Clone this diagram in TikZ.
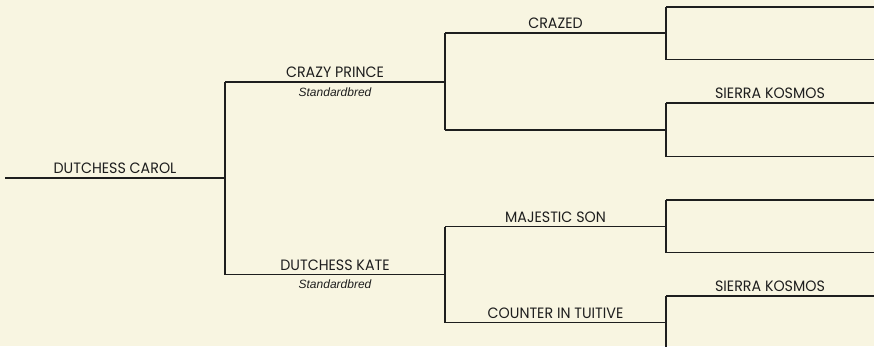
\documentclass[tikz,border=0pt]{standalone}
\usepackage{fontspec}
\setmainfont{Liberation Sans}
\newfontfamily\capfont[FakeStretch=0.95]{Poppins}
\usetikzlibrary{calc}
\definecolor{bg}{HTML}{F8F5E1}
\definecolor{ink}{HTML}{1E1E1E}
\tikzset{
  wire/.style={draw=ink, line width=1.5pt},
  horse/.style={font=\capfont\fontsize{15}{15}\selectfont, text=ink, inner sep=0pt, anchor=base, yshift=4.5pt},
  breed/.style={font=\itshape\fontsize{12}{12}\selectfont, text=ink, inner sep=0pt, anchor=base, yshift=-14pt}
}
\begin{document}
\begin{tikzpicture}[x=1pt,y=-1pt]
\useasboundingbox (0,0) rectangle (874,346);
\clip (0,0) rectangle (874,346);
\fill[bg] (0,0) rectangle (874,346);
% generation 0
\coordinate (s0) at (5,178);     \coordinate (e0) at (225,178);
% generation 1
\coordinate (s1) at (225,82);    \coordinate (e1) at (445,82);
\coordinate (s2) at (225,274.5); \coordinate (e2) at (445,274.5);
% generation 2
\coordinate (s3) at (445,33);    \coordinate (e3) at (666,33);
\coordinate (s4) at (445,130);   \coordinate (e4) at (666,130);
\coordinate (s5) at (445,226.5); \coordinate (e5) at (666,226.5);
\coordinate (s6) at (445,322.5); \coordinate (e6) at (666,322.5);
% generation 3
\coordinate (s7) at (666,7);     \coordinate (e7) at (874,7);
\coordinate (s8) at (666,59.5);  \coordinate (e8) at (874,59.5);
\coordinate (s9) at (666,103);   \coordinate (e9) at (874,103);
\coordinate (s10) at (666,156.5);\coordinate (e10) at (874,156.5);
\coordinate (s11) at (666,200);  \coordinate (e11) at (874,200);
\coordinate (s12) at (666,252.5);\coordinate (e12) at (874,252.5);
\coordinate (s13) at (666,296);  \coordinate (e13) at (874,296);
\coordinate (s14) at (666,349);  \coordinate (e14) at (874,349);
% horizontal lines
\foreach \i in {0,...,14} { \draw[wire] (s\i) -- (e\i); }
% vertical connectors
\draw[wire] (s1) -- (s2);
\draw[wire] (s3) -- (s4);
\draw[wire] (s5) -- (s6);
\draw[wire] (s7) -- (s8);
\draw[wire] (s9) -- (s10);
\draw[wire] (s11) -- (s12);
\draw[wire] (s13) -- (s14);
% labels
\node[horse] (n0) at ($(s0)!0.5!(e0)$) {DUTCHESS CAROL};
\node[horse] (n1) at ($(s1)!0.5!(e1)$) {CRAZY PRINCE};
\node[breed] (b1) at ($(s1)!0.5!(e1)$) {Standardbred};
\node[horse] (n2) at ($(s2)!0.5!(e2)$) {DUTCHESS KATE};
\node[breed] (b2) at ($(s2)!0.5!(e2)$) {Standardbred};
\node[horse] (n3) at ($(s3)!0.5!(e3)$) {CRAZED};
\node[horse] (n9) at ($(s9)!0.5!(e9)$) {SIERRA KOSMOS};
\node[horse] (n5) at ($(s5)!0.5!(e5)$) {MAJESTIC SON};
\node[horse] (n6) at ($(s6)!0.5!(e6)$) {COUNTER IN TUITIVE};
\node[horse] (n13) at ($(s13)!0.5!(e13)$) {SIERRA KOSMOS};
\end{tikzpicture}
\end{document}
